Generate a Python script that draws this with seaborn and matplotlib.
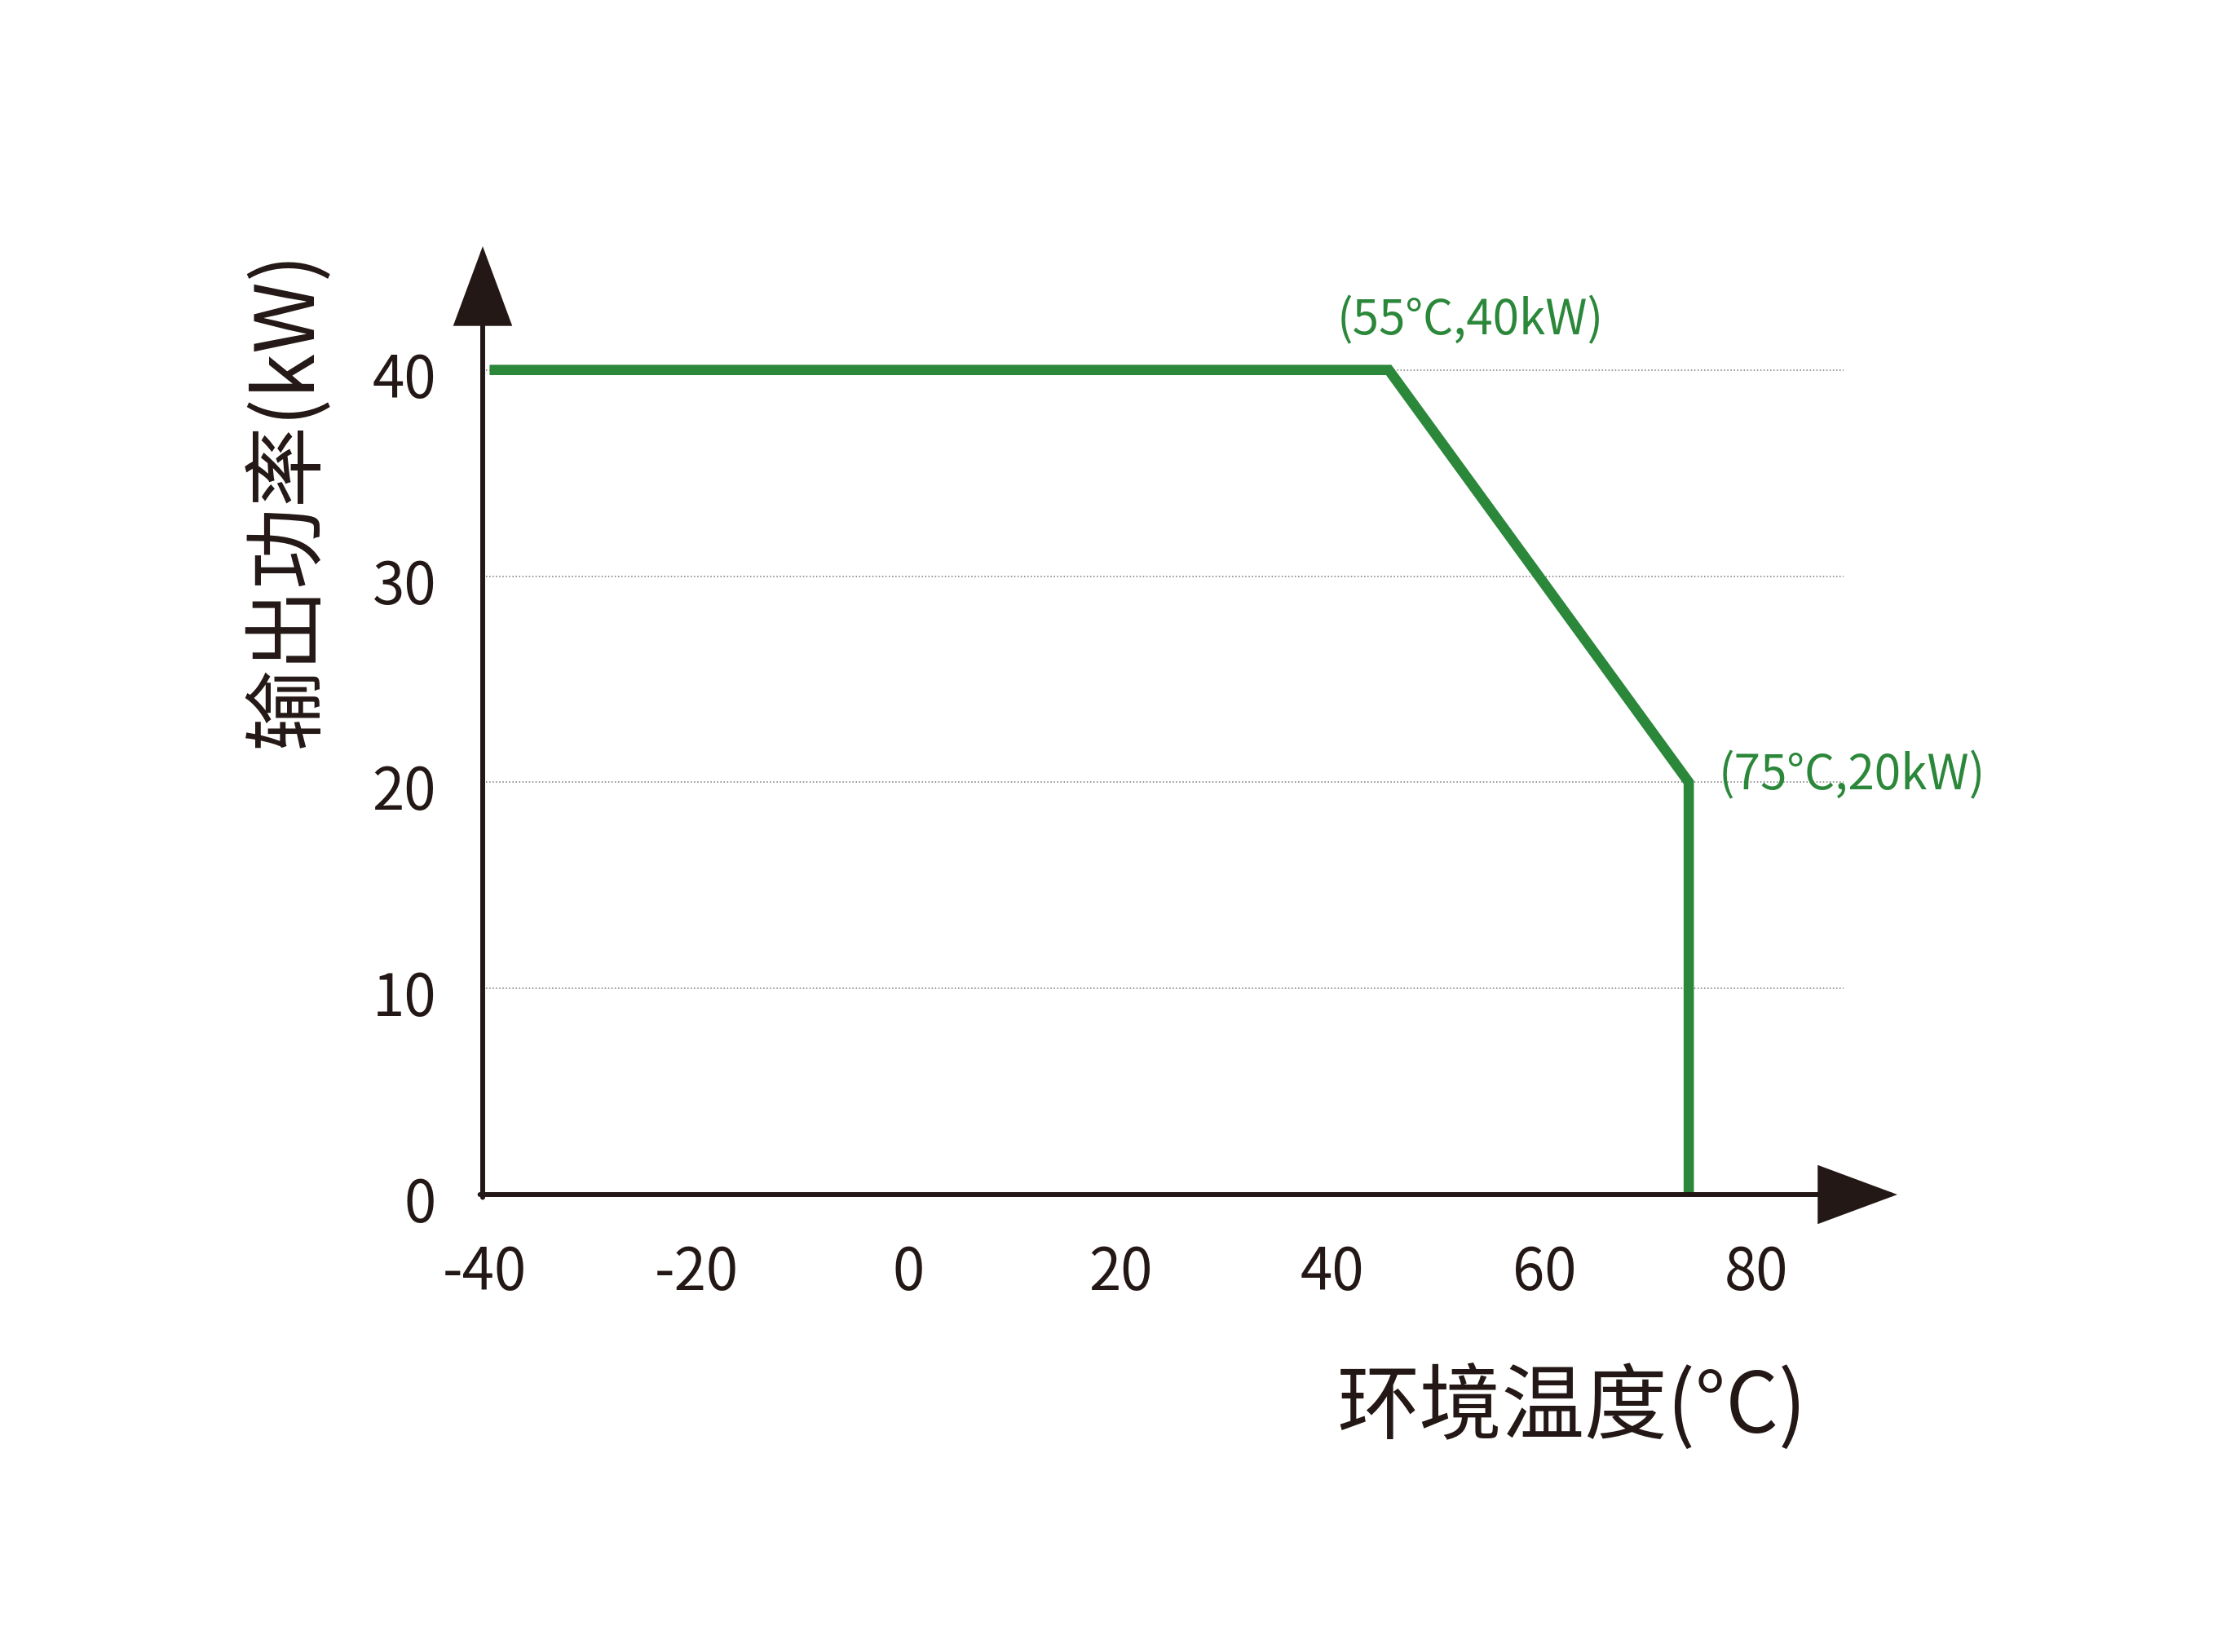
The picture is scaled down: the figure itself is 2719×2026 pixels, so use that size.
import matplotlib
matplotlib.use("Agg")
import matplotlib.pyplot as plt
import matplotlib.transforms as mtransforms
import seaborn as sns
import pandas as pd

# derating curve, x positions
temp = [-39.5, 45.3, 73.6, 73.6]
power = [40, 40, 20, 0]
x_ticks = [-40, -20, 0, 20, 40, 60, 80]
y_ticks = [0, 10, 20, 30, 40]
point_labels = ["(55°C,40kW)", "(75°C,20kW)"]
label_pos = [(40.45, 41.7), (76.4, 19.66)]

ink = "#231815"
green = "#2b873a"

sns.set_theme(style="white")
plt.rcParams["font.family"] = ["Noto Sans CJK SC", "DejaVu Sans"]

fig = plt.figure(figsize=(27.19, 20.26), dpi=100)
ax = fig.add_axes([592 / 2719, 561 / 2026, 1669 / 2719, 1163 / 2026])

df = pd.DataFrame({"temp": temp, "power": power})
sns.lineplot(data=df, x="temp", y="power", sort=False, estimator=None,
             color=green, linewidth=9.1, ax=ax,
             solid_joinstyle="miter", solid_capstyle="butt", zorder=3)

ax.set_xlim(-40.15, 88.2)
ax.set_ylim(0, 46)
ax.set_xticks(x_ticks)
ax.set_yticks(y_ticks)
ax.set_xticklabels([str(v) for v in x_ticks])
ax.set_yticklabels([str(v) for v in y_ticks])
ax.tick_params(axis="both", length=0, labelsize=51, labelcolor=ink)
ax.tick_params(axis="x", pad=43)
ax.tick_params(axis="y", pad=41)

# y labels sit a touch below their grid lines in the original
shift = mtransforms.ScaledTranslation(0, -4 / 72, fig.dpi_scale_trans)
for lab in ax.get_yticklabels():
    lab.set_transform(lab.get_transform() + shift)

ax.yaxis.grid(True, linestyle=":", color="#777777", linewidth=1.1)
ax.xaxis.grid(False)
for s in ax.spines.values():
    s.set_visible(False)

# arrowed axes
arrow = dict(arrowstyle="-|>,head_length=62,head_width=23", mutation_scale=1,
             color=ink, linewidth=4.3, shrinkA=0, shrinkB=0, joinstyle="miter")
ax.annotate("", xy=(0, 1.0), xycoords="axes fraction",
            xytext=(0, -0.003), textcoords="axes fraction", arrowprops=arrow)
ax.annotate("", xy=(1.0395, 0), xycoords="axes fraction",
            xytext=(-0.002, 0), textcoords="axes fraction", arrowprops=arrow)

for txt, (tx, ty) in zip(point_labels, label_pos):
    ax.text(tx, ty, txt, color=green, fontsize=42, ha="left", va="baseline",
            zorder=4)

ax.set_xlabel("环境温度(°C)", fontsize=73, color=ink, va="center")
ax.xaxis.set_label_coords(0.800, -0.225)
ax.set_ylabel("输出功率(kW)", fontsize=72, color=ink, va="center")
ax.yaxis.set_label_coords(-0.143, 0.734)

fig.savefig("out.png", dpi=100)
plt.close(fig)
